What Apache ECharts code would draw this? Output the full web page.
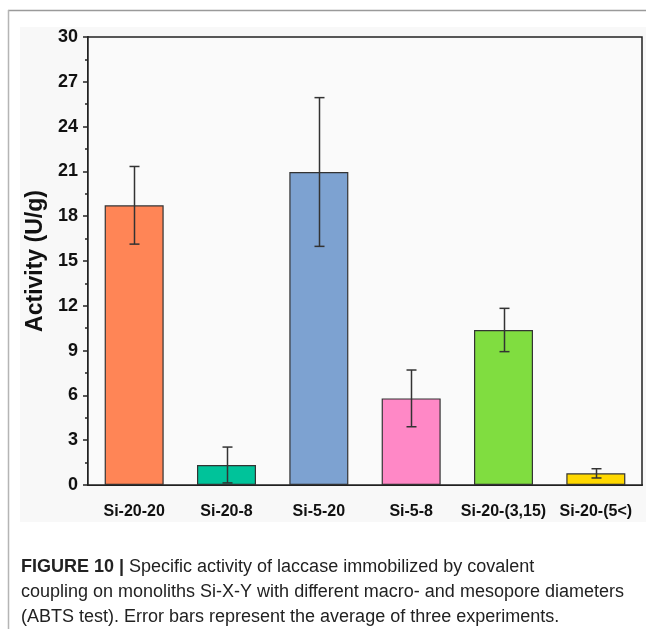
<!DOCTYPE html>
<html><head><meta charset="utf-8">
<script src="https://cdn.jsdelivr.net/npm/echarts@6/dist/echarts.min.js"></script>
<style>html,body{margin:0;padding:0;background:#fff}#c{width:646px;height:629px}</style>
</head><body><div id="c"></div>
<script>
const categories = ['Si-20-20', 'Si-20-8', 'Si-5-20', 'Si-5-8', 'Si-20-(3,15)', 'Si-20-(5<)'];
const activity = [18.73, 1.34, 20.96, 5.8, 10.38, 0.78];
const errors = [2.6, 1.2, 4.98, 1.9, 1.45, 0.31];
const barColors = ['#FF8556', '#00C39A', '#7DA2D1', '#FF88C6', '#80DD40', '#FFD800'];
const yTicks = [0, 3, 6, 9, 12, 15, 18, 21, 24, 27, 30];

const chart = echarts.init(document.getElementById('c'), null, {renderer: 'canvas'});
const font = 'Liberation Sans, Arial, sans-serif';
chart.setOption({
  animation: false,
  backgroundColor: '#fff',
  graphic: {elements: [
    {type: 'rect', z: -100, silent: true, shape: {x: 20, y: 27, width: 626, height: 495}, style: {fill: '#f8f8f8'}},
    {type: 'line', z: -100, shape: {x1: 8, y1: 10.5, x2: 646, y2: 10.5}, style: {stroke: '#9a9a9a', lineWidth: 1.5}},
    {type: 'line', z: -100, shape: {x1: 8.5, y1: 10, x2: 8.5, y2: 629}, style: {stroke: '#b5b5b5', lineWidth: 1.5}},
    {type: 'text', left: 21, top: 555, style: {
      text: '{b|FIGURE 10 |} Specific activity of laccase immobilized by covalent\ncoupling on monoliths Si-X-Y with different macro- and mesopore diameters\n(ABTS test). Error bars represent the average of three experiments.',
      font: '18px ' + font, fill: '#222', lineHeight: 25,
      rich: {b: {fontWeight: 'bold', fontSize: 18, fontFamily: font, fill: '#222', lineHeight: 25}}
    }}
  ]},
  grid: {left: 88, right: 4, top: 37, bottom: 144, show: true, backgroundColor: '#fafafa', borderColor: '#222', borderWidth: 1.5, z: 1},
  xAxis: {
    type: 'category', data: categories,
    axisLine: {lineStyle: {color: '#222', width: 2}},
    axisTick: {alignWithLabel: true, length: 6, lineStyle: {color: '#222', width: 2}},
    axisLabel: {interval: 0, color: '#111', fontWeight: 'bold', fontSize: 16, fontFamily: font, margin: 19}
  },
  yAxis: {
    type: 'value', min: 0, max: 30, interval: 3,
    name: 'Activity (U/g)', nameLocation: 'middle', nameGap: 39,
    nameTextStyle: {color: '#111', fontWeight: 'bold', fontSize: 23, fontFamily: font},
    splitLine: {show: false},
    axisLine: {show: true, lineStyle: {color: '#222', width: 2}},
    axisTick: {show: true, length: 5, lineStyle: {color: '#222', width: 1.5}},
    minorTick: {show: true, splitNumber: 2, length: 3, lineStyle: {color: '#222', width: 1.5}},
    axisLabel: {color: '#111', fontWeight: 'bold', fontSize: 18, fontFamily: font, margin: 10,
      formatter: v => yTicks.includes(v) ? String(v) : ''}
  },
  series: [
    {
      type: 'bar', barWidth: 59, z: 2,
      data: activity.map((v, i) => ({value: v, itemStyle: {color: barColors[i]}})),
      itemStyle: {borderColor: '#333', borderWidth: 1.2}
    },
    {
      type: 'custom', z: 5,
      data: activity.map((v, i) => [i, v - errors[i], v + errors[i]]),
      renderItem: (params, api) => {
        const lo = api.coord([api.value(0), api.value(1)]);
        const hi = api.coord([api.value(0), api.value(2)]);
        const x = Math.round(lo[0]) + 0.5, hw = 5;
        const st = {stroke: '#333', lineWidth: 1.5};
        return {type: 'group', children: [
          {type: 'line', shape: {x1: x, y1: hi[1], x2: x, y2: lo[1]}, style: st},
          {type: 'line', shape: {x1: x - hw, y1: hi[1], x2: x + hw, y2: hi[1]}, style: st},
          {type: 'line', shape: {x1: x - hw, y1: lo[1], x2: x + hw, y2: lo[1]}, style: st}
        ]};
      }
    }
  ]
});
</script></body></html>
